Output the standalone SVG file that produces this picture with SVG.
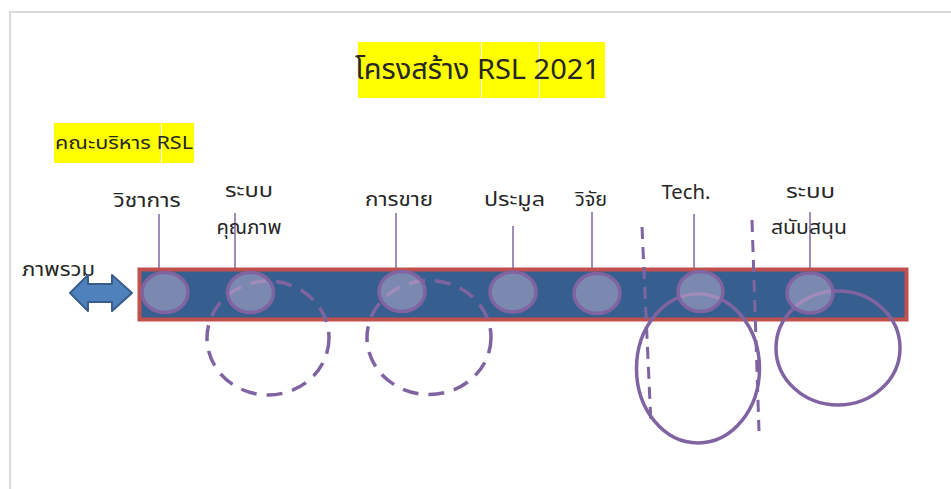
<svg xmlns="http://www.w3.org/2000/svg" width="951" height="489" viewBox="0 0 951 489">
<style>
text{font-family:"Noto Sans Thai","Noto Sans","DejaVu Sans",Tahoma,sans-serif;fill:#262626}
.lbl{font-size:20px;text-anchor:middle}
.hl{fill:#ffff00}
.lead{stroke:#8064a2;stroke-width:1.5;fill:none}
.small{fill:#c0b2d1;fill-opacity:0.5;stroke:#8064a2;stroke-width:3.5}
.big{fill:none;stroke:#8064a2;stroke-width:3.5}
.dash{stroke-dasharray:16 10}
.vdash{stroke:#8064a2;stroke-width:3;stroke-dasharray:12 8;fill:none}
</style>
<rect width="951" height="489" fill="#ffffff"/>
<path d="M10 489 V12 H951" fill="none" stroke="#d9d9d9" stroke-width="2"/>

<g id="title">
<rect class="hl" x="358" y="42" width="123" height="56"/>
<rect class="hl" x="482" y="42" width="57" height="56"/>
<rect class="hl" x="540" y="42" width="65" height="56"/>
<text x="355" y="79" font-size="28" textLength="245" lengthAdjust="spacingAndGlyphs">โครงสร้าง RSL 2021</text>
</g>

<g id="board">
<rect class="hl" x="54" y="123" width="107" height="40"/>
<rect class="hl" x="162" y="123" width="32" height="40"/>
<text x="55" y="149" font-size="18" textLength="138" lengthAdjust="spacingAndGlyphs">คณะบริหาร RSL</text>
</g>

<g id="bar">
<rect x="139.5" y="269.5" width="767" height="50" fill="#365f8f" stroke="#c0504d" stroke-width="4"/>
</g>

<g id="overview">
<text class="lbl" x="58.5" y="276" textLength="73" lengthAdjust="spacingAndGlyphs">ภาพรวม</text>
<polygon points="70,293 88,275 88,284 112,284 112,275 132,293 112,311 112,302 88,302 88,311" fill="#4f81bd" stroke="#385d8a" stroke-width="2" stroke-linejoin="round"/>
</g>

<g id="groups">
<ellipse id="group-quality" class="big dash" cx="268" cy="338" rx="61" ry="57"/>
<ellipse id="group-sales" class="big dash" cx="429" cy="337.5" rx="62" ry="57"/>
<ellipse id="group-tech" class="big" cx="698" cy="368.5" rx="61.5" ry="74.5"/>
<ellipse id="group-support" class="big" cx="838" cy="348" rx="62" ry="57"/>
<line id="divider-1" class="vdash" x1="642" y1="227" x2="651" y2="425"/>
<line id="divider-2" class="vdash" x1="752" y1="220" x2="759" y2="431"/>
</g>

<g id="connectors">
<line class="lead" x1="159" y1="214" x2="159" y2="268"/>
<line class="lead" x1="235" y1="213" x2="235" y2="268"/>
<line class="lead" x1="396" y1="213" x2="396" y2="268"/>
<line class="lead" x1="513" y1="226" x2="513" y2="268"/>
<line class="lead" x1="592" y1="212" x2="592" y2="268"/>
<line class="lead" x1="694" y1="214" x2="694" y2="268"/>
<line class="lead" x1="810" y1="212" x2="810" y2="268"/>
</g>

<g id="node-academic">
<ellipse class="small" cx="165" cy="292.5" rx="23" ry="20"/>
<text class="lbl" x="147" y="207" textLength="67" lengthAdjust="spacingAndGlyphs">วิชาการ</text>
</g>
<g id="node-quality">
<ellipse class="small" cx="250.5" cy="292.5" rx="23" ry="20"/>
<text class="lbl" x="249" y="197" textLength="48" lengthAdjust="spacingAndGlyphs">ระบบ</text>
<text class="lbl" x="249" y="234" textLength="65" lengthAdjust="spacingAndGlyphs">คุณภาพ</text>
</g>
<g id="node-sales">
<ellipse class="small" cx="402" cy="291.5" rx="23" ry="20"/>
<text class="lbl" x="399" y="206" textLength="68" lengthAdjust="spacingAndGlyphs">การขาย</text>
</g>
<g id="node-bidding">
<ellipse class="small" cx="513" cy="292" rx="23" ry="20"/>
<text class="lbl" x="514.5" y="206" textLength="61" lengthAdjust="spacingAndGlyphs">ประมูล</text>
</g>
<g id="node-research">
<ellipse class="small" cx="597" cy="293.5" rx="23" ry="20"/>
<text class="lbl" x="591" y="206" textLength="32" lengthAdjust="spacingAndGlyphs">วิจัย</text>
</g>
<g id="node-tech">
<ellipse class="small" cx="700.5" cy="291.5" rx="22.5" ry="20"/>
<text class="lbl" x="686" y="199" textLength="49" lengthAdjust="spacingAndGlyphs">Tech.</text>
</g>
<g id="node-support">
<ellipse class="small" cx="810" cy="293" rx="23" ry="20"/>
<text class="lbl" x="810.5" y="198" textLength="49" lengthAdjust="spacingAndGlyphs">ระบบ</text>
<text class="lbl" x="809" y="234" textLength="76" lengthAdjust="spacingAndGlyphs">สนับสนุน</text>
</g>
</svg>
